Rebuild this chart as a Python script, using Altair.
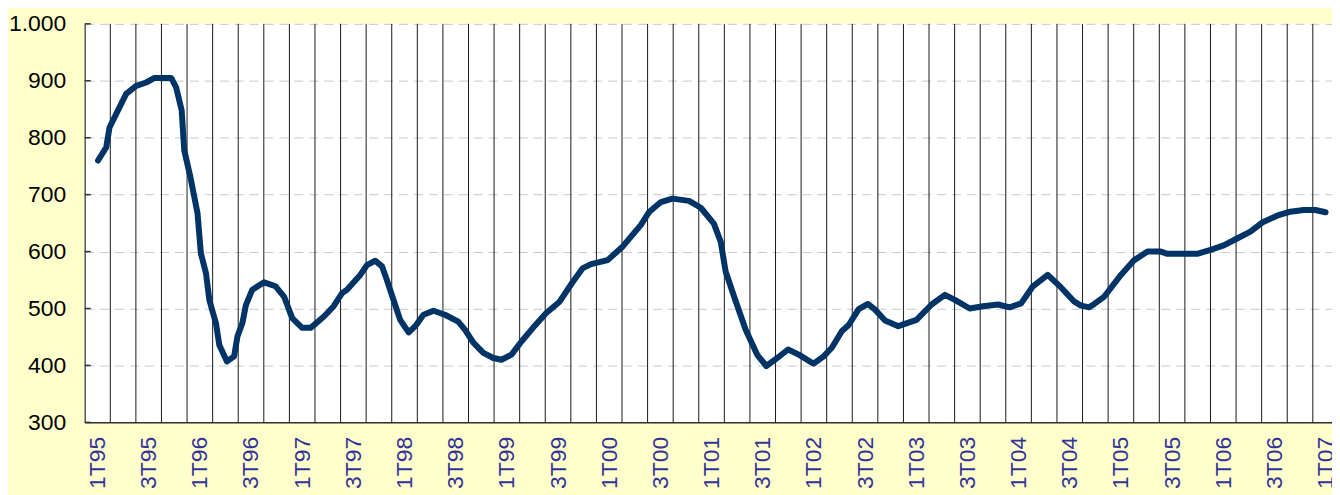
import altair as alt
import pandas as pd

# Position along the time axis, in quarters from 1T95 (0 = 1T95, 48 = 1T07)
periodo = [0.02, 0.34, 0.47, 0.80, 1.12, 1.51, 1.90, 2.23, 2.88, 3.07, 3.29, 3.39, 3.63, 3.91,
           4.04, 4.24, 4.37, 4.63, 4.76, 5.06, 5.34, 5.47, 5.66, 5.80, 6.05, 6.51, 6.96, 7.29,
           7.61, 8.00, 8.33, 8.85, 9.23, 9.56, 9.75, 10.27, 10.53, 10.86, 11.12, 11.31, 11.57,
           11.83, 12.16, 12.42, 12.74, 13.13, 13.58, 14.10, 14.36, 14.69, 15.08, 15.47, 15.79,
           16.18, 16.57, 17.02, 17.54, 18.06, 18.58, 18.97, 19.29, 19.49, 19.94, 20.53, 21.24,
           21.57, 22.02, 22.47, 23.12, 23.58, 24.09, 24.36, 24.55, 24.88, 25.33, 25.78, 26.14,
           26.56, 26.99, 27.41, 27.99, 28.38, 28.70, 29.09, 29.36, 29.75, 30.11, 30.39, 30.78,
           31.30, 32.01, 32.60, 33.12, 33.51, 34.09, 34.61, 35.20, 35.65, 36.10, 36.56, 37.14,
           37.66, 38.18, 38.44, 38.76, 38.96, 39.35, 40.00, 40.52, 41.04, 41.56, 41.82, 42.98,
           43.57, 44.02, 44.54, 45.06, 45.52, 46.10, 46.62, 47.14, 47.60, 48.00]
valor = [760, 783, 818, 848, 877, 891, 897, 905, 905, 889, 848, 778, 731, 667,
         597, 562, 515, 474, 436, 407, 416, 451, 474, 506, 533, 546, 539, 521,
         483, 466, 466, 486, 504, 527, 533, 559, 576, 584, 574, 550, 515,
         480, 458, 469, 489, 496, 489, 477, 463, 440, 422, 413, 410,
         419, 442, 466, 492, 512, 547, 571, 578, 580, 585, 609, 647,
         670, 687, 693, 689, 677, 649, 617, 565, 521, 463, 419, 399,
         413, 428, 419, 403, 416, 431, 460, 471, 499, 508, 498, 479,
         469, 480, 507, 524, 515, 500, 504, 507, 502, 509, 539, 559,
         537, 512, 505, 502, 508, 521, 559, 585, 600, 600, 596, 596,
         604, 611, 623, 635, 651, 663, 670, 673, 673, 669]

# Quarter labels shown on the axis (every second quarter)
etiquetas = ["1T95", "3T95", "1T96", "3T96", "1T97", "3T97", "1T98", "3T98", "1T99", "3T99",
             "1T00", "3T00", "1T01", "3T01", "1T02", "3T02", "1T03", "3T03", "1T04", "3T04",
             "1T05", "3T05", "1T06", "3T06", "1T07"]
posiciones_etiquetas = list(range(0, 49, 2))

# Boundaries between quarters (vertical separators)
limites = [k - 0.5 for k in range(1, 49)]

y_ticks = [300, 400, 500, 600, 700, 800, 900, 1000]

df = pd.DataFrame({"periodo": periodo, "valor": valor})
df_lim = pd.DataFrame({"periodo": limites, "valor": [300] * len(limites)})
df_yt = pd.DataFrame({"valor": y_ticks})

FONT = "Liberation Sans"
x_scale = alt.Scale(domain=[-0.5, 48.25], nice=False, zero=False)
y_scale = alt.Scale(domain=[300, 1000], nice=False, zero=False)

label_array = "[" + ",".join("'" + e + "'" for e in etiquetas) + "]"

x_axis = alt.Axis(
    values=posiciones_etiquetas,
    labelExpr=label_array + "[round(datum.value / 2)]",
    labelAngle=270,
    labelAlign="right",
    labelBaseline="middle",
    labelPadding=14,
    labelFont=FONT,
    labelFontSize=23,
    labelColor="#333399",
    labelOverlap=False,
    labelFlush=False,
    ticks=False,
    grid=False,
    domainColor="#333333",
    domainWidth=1.5,
    title=None,
)
y_axis = alt.Axis(
    values=y_ticks,
    labelExpr="replace(format(datum.value, ','), ',', '.')",
    labelPadding=19,
    labelFont=FONT,
    labelFontSize=23,
    labelColor="black",
    ticks=False,
    grid=True,
    gridColor="#c8c8c8",
    gridDash=[9, 6],
    gridWidth=1,
    domainColor="#555555",
    domainWidth=1.5,
    title=None,
)

X = alt.X("periodo:Q", scale=x_scale, axis=x_axis)
Y = alt.Y("valor:Q", scale=y_scale, axis=y_axis)

separadores = alt.Chart(df_lim).mark_rule(color="#1a1a1a", strokeWidth=1).encode(
    x=X,
    y=alt.value(0),
    y2=alt.value(400),
)

linea = alt.Chart(df).mark_line(
    color="#003366", strokeWidth=6, strokeCap="round", strokeJoin="round"
).encode(x=X, y=Y)

ticks_y = alt.Chart(df_yt).mark_rule(color="#333333", strokeWidth=1.5).encode(
    y=Y,
    x=alt.value(0),
    x2=alt.value(6),
)

chart = alt.layer(separadores, linea, ticks_y).properties(
    width=1252,
    height=400,
    autosize=alt.AutoSizeParams(type="none"),
    padding={"left": 77, "top": 15, "right": 0, "bottom": 72},
    background="#FFFFCC",
).configure_view(fill="white", strokeWidth=0)

chart.save("out.html", embed_options={"renderer": "svg", "actions": False})
